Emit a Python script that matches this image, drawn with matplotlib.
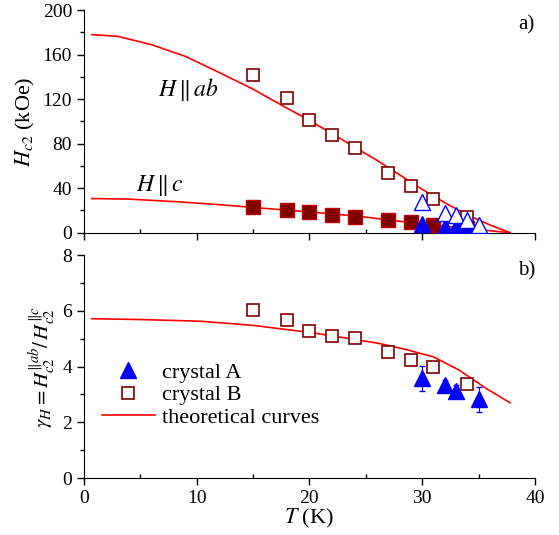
import matplotlib
matplotlib.use("Agg")
import matplotlib.pyplot as plt
from matplotlib.lines import Line2D
from matplotlib.ticker import MultipleLocator

plt.rcParams['font.family'] = ['Liberation Serif', 'DejaVu Serif']
plt.rcParams['mathtext.fontset'] = 'stix'

# crystal B, H || ab (open squares)
tB = [15, 18, 20, 22, 24, 27, 29, 31, 34]
hB_ab = [142, 121, 101, 87.5, 76, 54, 42, 30, 14]
hB_ab_err = [3, 3, 3, 2.5, 2.5, 2.5, 2, 2, 2]
# crystal B, H || c (filled squares)
hB_c = [23, 20, 18.7, 16.3, 14.2, 11.8, 9.7, 7.3, 4.2]
hB_c_err = [2, 2, 2, 2, 2, 2, 2, 2, 2]
# crystal A, H || ab (open triangles) and H || c (filled triangles)
tA = [30, 32, 33, 34, 35]
hA_ab = [27.7, 17.8, 15.7, 11.8, 7.3]
hA_ab_err = [2, 2, 2, 2, 2]
hA_c = [7.7, 5.3, 5.0, 4.0, 2.6]
hA_c_err = [2, 2, 2, 2, 2]

# anisotropy
gB = [6.02, 5.69, 5.27, 5.09, 5.02, 4.53, 4.25, 3.99, 3.36]
gB_err = [0.1, 0.15, 0.1, 0.1, 0.1, 0.12, 0.15, 0.1, 0.1]
tA_g = [30, 32, 33, 35]
gA = [3.58, 3.33, 3.13, 2.82]
gA_err = [0.45, 0.2, 0.2, 0.45]

# theoretical curves
t_ab = [0.7, 3, 6, 9, 12, 15, 18, 20, 22, 24, 26, 28, 30, 32, 34, 36, 37.8]
h_ab = [178, 176.5, 169, 158.5, 144, 129, 112, 101, 89, 77, 65, 52, 39, 27, 16, 7, 0]
t_c = [0.7, 4, 8.5, 12, 15, 18, 22, 25, 29.2, 32, 35, 37.8]
h_c = [30.7, 30.2, 27.7, 25.2, 22.7, 20.3, 17, 14, 8.8, 5.8, 2.8, 0]
t_g = [0.7, 5, 10.3, 15, 20, 23, 26.2, 28.5, 31, 33.3, 35.7, 37.8]
g_th = [5.72, 5.69, 5.63, 5.48, 5.23, 5.04, 4.83, 4.62, 4.35, 3.87, 3.21, 2.70]

fig = plt.figure(figsize=(5.59, 5.35), dpi=100)
ax1 = fig.add_axes([0.150, 0.565, 0.807, 0.416])
ax2 = fig.add_axes([0.150, 0.1065, 0.807, 0.4165])

red = '#ff0000'
dred = '#800000'
blue = '#0000ff'

# top panel
ax1.plot(t_ab, h_ab, color=red, lw=1.2, zorder=2)
ax1.plot(t_c, h_c, color=red, lw=1.2, zorder=2)
ax1.errorbar(tB, hB_c, yerr=hB_c_err, fmt='s', ms=10, mfc=dred, mec='#c00000',
             ecolor='black', elinewidth=0.8, capsize=0, zorder=3)
ax1.errorbar(tA, hA_c, yerr=hA_c_err, fmt='^', ms=11, mfc=blue, mec=blue,
             ecolor='black', elinewidth=0.8, capsize=2, zorder=4)
ax1.errorbar(tB, hB_ab, yerr=hB_ab_err, fmt='s', ms=9, mfc='white', mec=dred, mew=1.2,
             ecolor='black', elinewidth=0.8, capsize=2.5, zorder=5)
ax1.errorbar(tA, hA_ab, yerr=hA_ab_err, fmt='^', ms=11, mfc='white', mec=blue, mew=1.0,
             ecolor='black', elinewidth=0.8, capsize=2.5, zorder=5)

ax1.text(6.6, 129, r'$H\,\|\,ab$', fontsize=17, va='center', ha='left')
ax1.text(4.6, 42.7, r'$H\,\|\,c$', fontsize=17, va='center', ha='left')
ax1.text(1.0, 0.975, 'a)', transform=ax1.transAxes, fontsize=15, ha='right', va='top')

ax1.set_xlim(0, 40)
ax1.set_ylim(0, 200)
ax1.yaxis.set_major_locator(MultipleLocator(40))
ax1.yaxis.set_minor_locator(MultipleLocator(20))
ax1.xaxis.set_major_locator(MultipleLocator(10))
ax1.xaxis.set_minor_locator(MultipleLocator(5))
ax1.tick_params(labelbottom=False)
ax1.set_ylabel(r'$H_{c2}$ (kOe)', fontsize=16, labelpad=4)

# bottom panel
ax2.plot(t_g, g_th, color=red, lw=1.2, zorder=2)
ax2.errorbar(tA_g, gA, yerr=gA_err, fmt='^', ms=11, mfc=blue, mec=blue,
             ecolor=blue, elinewidth=0.8, capsize=2.5, zorder=4)
ax2.errorbar(tB, gB, yerr=gB_err, fmt='s', ms=9, mfc='white', mec=dred, mew=1.2,
             ecolor='black', elinewidth=0.8, capsize=2.5, zorder=5)
ax2.text(1.0, 0.975, 'b)', transform=ax2.transAxes, fontsize=15, ha='right', va='top')

ax2.set_xlim(0, 40)
ax2.set_ylim(0, 8)
ax2.yaxis.set_major_locator(MultipleLocator(2))
ax2.yaxis.set_minor_locator(MultipleLocator(1))
ax2.xaxis.set_major_locator(MultipleLocator(10))
ax2.xaxis.set_minor_locator(MultipleLocator(5))
ax2.set_xlabel(r'$T$ (K)', fontsize=16, labelpad=0)
ax2.set_ylabel(r'$\gamma_H = H_{c2}^{\|ab}/\,H_{c2}^{\|c}$', fontsize=15, labelpad=4)

handles = [
    Line2D([], [], ls='none', marker='^', ms=11, mfc=blue, mec=blue),
    Line2D([], [], ls='none', marker='s', ms=9, mfc='white', mec=dred, mew=1.2),
    Line2D([], [], color=red, lw=1.2),
]
ax2.legend(handles, ['crystal A', 'crystal B', 'theoretical curves'],
           loc='upper left', bbox_to_anchor=(0.02, 0.56), frameon=False,
           fontsize=16, handlelength=2.4, handletextpad=0.3, labelspacing=0.1,
           borderaxespad=0)

for ax in (ax1, ax2):
    ax.spines['top'].set_visible(False)
    ax.spines['right'].set_visible(False)
    ax.tick_params(which='major', direction='out', length=5, width=1, labelsize=14)
    ax.tick_params(which='minor', direction='out', length=3, width=1)
    ax.tick_params(axis='x', which='minor', direction='in')

fig.savefig('out.png', dpi=100)
